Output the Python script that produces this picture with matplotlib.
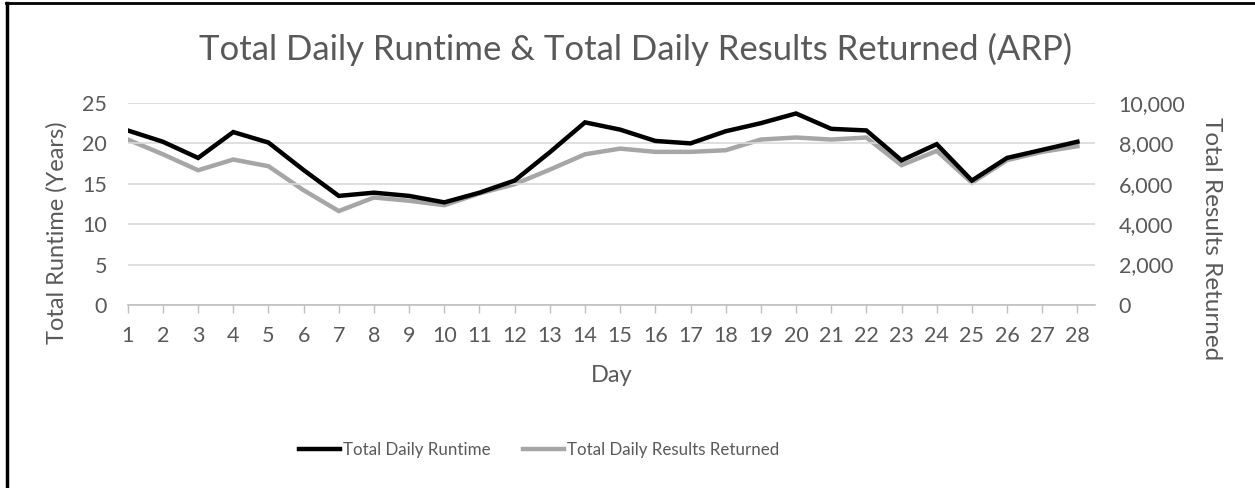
import matplotlib.pyplot as plt
from matplotlib.lines import Line2D
from matplotlib.ticker import FuncFormatter

plt.rcParams['font.family'] = ['Lato', 'DejaVu Sans']

# data
days = list(range(1, 29))
runtime_years = [21.6, 20.2, 18.2, 21.4, 20.1, 16.7, 13.5, 13.9, 13.5, 12.7,
                 13.9, 15.4, 18.9, 22.6, 21.7, 20.3, 20.0, 21.5, 22.5, 23.7,
                 21.8, 21.6, 17.9, 19.9, 15.4, 18.2, 19.2, 20.2]
results_returned = [8190, 7460, 6670, 7200, 6870, 5680, 4650, 5320, 5160, 4940,
                    5520, 5980, 6700, 7460, 7740, 7580, 7580, 7660, 8190, 8290,
                    8190, 8290, 6920, 7630, 6050, 7170, 7580, 7860]

text_col = '#595959'
grid_col = '#d9d9d9'

fig = plt.figure(figsize=(12.55, 4.88), dpi=100)
ax = fig.add_axes([0.1018, 0.375, 0.7707, 0.414])
ax2 = ax.twinx()

# gray series on secondary axis, kept under the black one
ax2.plot(days, results_returned, color='#a6a6a6', lw=3.2, solid_joinstyle='miter',
         label='Total Daily Results Returned')
ax.plot(days, runtime_years, color='black', lw=3.2, solid_joinstyle='miter',
        label='Total Daily Runtime')
ax.set_zorder(ax2.get_zorder() + 1)
ax.patch.set_visible(False)

ax.set_xlim(1, 28.5)
ax.set_ylim(0, 25)
ax2.set_ylim(0, 10000)
ax.set_yticks(range(0, 26, 5))
ax2.set_yticks(range(0, 10001, 2000))
ax2.yaxis.set_major_formatter(FuncFormatter(lambda v, p: f'{int(v):,}'))
ax.set_xticks(days)

ax.grid(axis='y', color=grid_col, lw=1.2)
ax.set_axisbelow(True)
for a in (ax, ax2):
    for s in a.spines.values():
        s.set_visible(False)
ax.spines['bottom'].set_visible(True)
ax.spines['bottom'].set_color('#bfbfbf')
ax.spines['bottom'].set_linewidth(1.2)

ax.tick_params(axis='x', colors='#bfbfbf', length=6, width=1, labelcolor=text_col,
               labelsize=15.5, pad=9)
ax.tick_params(axis='y', length=0, labelcolor=text_col, labelsize=15.5, pad=15)
ax2.tick_params(axis='y', length=0, labelcolor=text_col, labelsize=15.5, pad=17)

ax.set_xlabel('Day', color=text_col, fontsize=17)
ax.xaxis.set_label_coords((612 - 127.7) / 967.3, (305 - 365) / 202)
ax.set_ylabel('Total Runtime (Years)', color=text_col, fontsize=17, va='center')
ax.yaxis.set_label_coords((57 - 127.7) / 967.3, 0.36)
ax2.set_ylabel('Total Results Returned', color=text_col, fontsize=17.5, rotation=270,
               va='center')
ax2.yaxis.set_label_coords((1212 - 127.7) / 967.3, 0.33)

fig.text(0.5064, 0.898, 'Total Daily Runtime & Total Daily Results Returned (ARP)',
         ha='center', va='center', color=text_col, fontsize=25)

h1, l1 = ax.get_legend_handles_labels()
h2, l2 = ax2.get_legend_handles_labels()
fig.legend(h1 + h2, l1 + l2, loc='center', bbox_to_anchor=(0.4295, 0.078), ncol=2,
           frameon=False, fontsize=12.2, labelcolor=text_col, handlelength=2.4,
           handletextpad=0.17, columnspacing=1.95)

# partial frame like the screenshot: top and left edges only
fig.add_artist(Line2D([0.005, 1.0], [0.994, 0.994], color='black', lw=2,
                      transform=fig.transFigure))
fig.add_artist(Line2D([0.0055, 0.0055], [0.0, 0.994], color='black', lw=2.5,
                      transform=fig.transFigure))

fig.savefig('out.png', dpi=100)
